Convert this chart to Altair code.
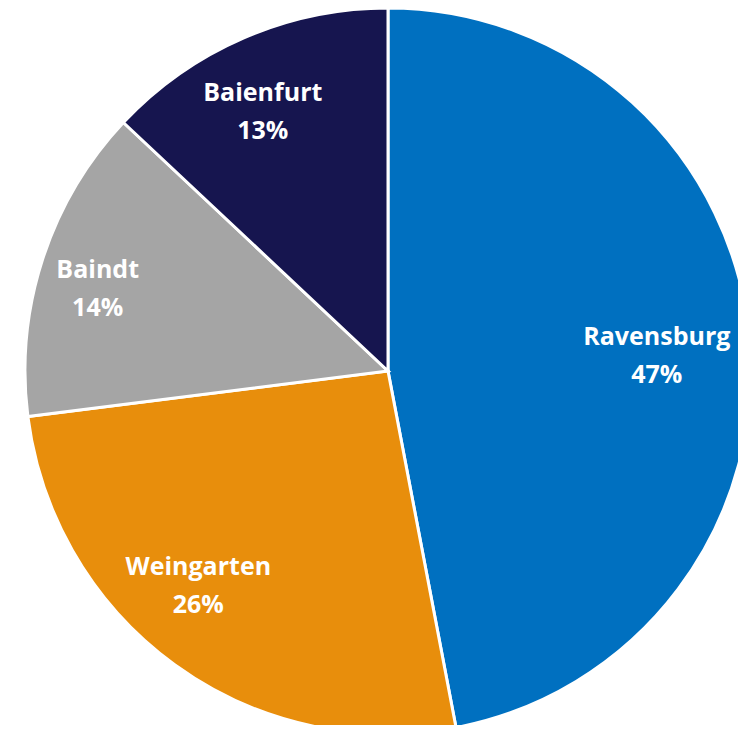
import altair as alt
import pandas as pd

cities = ["Ravensburg", "Weingarten", "Baindt", "Baienfurt"]
shares = [47, 26, 14, 13]
order = [1, 2, 3, 4]
colors = ["#0070C0", "#E88E0C", "#A5A5A5", "#16154F"]

df = pd.DataFrame({"city": cities, "share": shares, "ord": order})

base = alt.Chart(df).encode(
    theta=alt.Theta("share:Q", stack=True),
    order=alt.Order("ord:Q", sort="ascending"),
    x=alt.value(380),
    y=alt.value(363),
)

arcs = base.mark_arc(outerRadius=363, stroke="white", strokeWidth=3).encode(
    color=alt.Color("city:N", scale=alt.Scale(domain=cities, range=colors), legend=None)
)

text_style = dict(
    font="Open Sans", fontWeight="bold", fontSize=25,
    color="white", lineBreak="\n", lineHeight=38, align="center", baseline="middle"
)

lab_base = base.transform_calculate(
    lab="datum.city + '\\n' + datum.share + '%'"
)

# label placement per slice: (radius, dx, dy)
placement = {1: (270, 0, -9), 2: (270, -31, -22), 3: (300, -5, -8), 4: (285, -12, -16)}

label_layers = []
for k, (r, dx, dy) in placement.items():
    label_layers.append(
        lab_base.mark_text(radius=r, dx=dx, dy=dy, **text_style).encode(
            text=alt.condition(f"datum.ord == {k}", "lab:N", alt.value(""))
        )
    )

chart = alt.layer(arcs, *label_layers).properties(
    width=730, height=717, autosize=alt.AutoSizeParams(type="none"), padding=0
).configure_view(stroke=None)

chart.save("out.html", embed_options={"renderer": "svg", "actions": False})
